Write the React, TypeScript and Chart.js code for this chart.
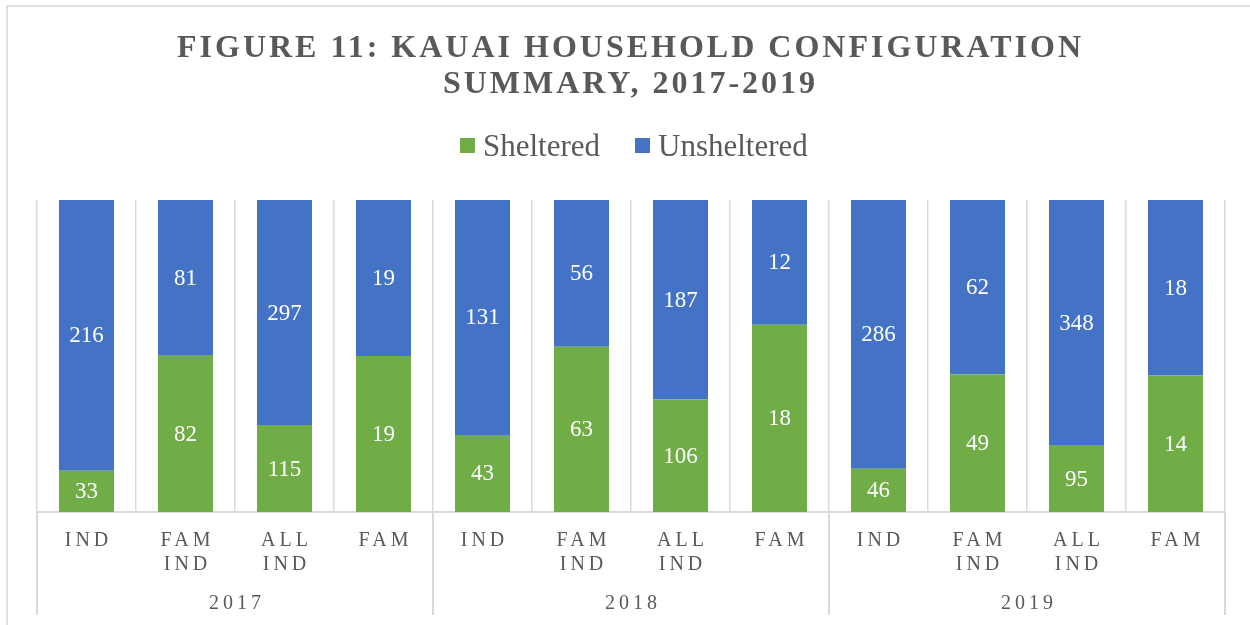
import React, { useEffect, useRef } from "react";
import { Chart, registerables } from "chart.js";

Chart.register(...registerables);

const titleLines = ["FIGURE 11: KAUAI HOUSEHOLD CONFIGURATION", "SUMMARY, 2017-2019"];
const years = ["2017", "2018", "2019"];
const categoryNames = [["IND"], ["FAM", "IND"], ["ALL", "IND"], ["FAM"]];
const seriesNames = ["Sheltered", "Unsheltered"];
const seriesColors = ["#70AD47", "#4472C4"];
const sheltered = [33, 82, 115, 19, 43, 63, 106, 18, 46, 49, 95, 14];
const unsheltered = [216, 81, 297, 19, 131, 56, 187, 12, 286, 62, 348, 18];

const SERIF = '"Liberation Serif", "Times New Roman", serif';
const TEXT = "#595959";
const GRID = "#D9D9D9";

const labels: string[] = [];
years.forEach((y) => categoryNames.forEach((c) => labels.push(y + " " + c.join(" "))));
const totals = sheltered.map((v, i) => v + unsheltered[i]);
const shelteredPct = sheltered.map((v, i) => (v / totals[i]) * 100);
const unshelteredPct = unsheltered.map((v, i) => (v / totals[i]) * 100);
const rawValues = [sheltered, unsheltered];

const chromePlugin = {
  id: "chrome",
  beforeDraw(chart: any) {
    const ctx = chart.ctx;
    ctx.save();
    ctx.fillStyle = "#FFFFFF";
    ctx.fillRect(0, 0, chart.width, chart.height);
    ctx.strokeStyle = GRID;
    ctx.lineWidth = 1.5;
    ctx.beginPath();
    ctx.moveTo(7, chart.height);
    ctx.lineTo(7, 6);
    ctx.lineTo(chart.width, 6);
    ctx.stroke();
    ctx.restore();
  },
  afterDatasetsDraw(chart: any) {
    const ctx = chart.ctx;
    ctx.save();
    ctx.fillStyle = "#FFFFFF";
    ctx.font = `23px ${SERIF}`;
    ctx.textAlign = "center";
    ctx.textBaseline = "middle";
    chart.data.datasets.forEach((ds: any, di: number) => {
      const meta = chart.getDatasetMeta(di);
      meta.data.forEach((el: any, i: number) => {
        const y = (el.y + el.base) / 2;
        ctx.fillText(String(rawValues[di][i]), el.x, y + 1);
      });
    });
    ctx.restore();
  },
  afterDraw(chart: any) {
    const ctx = chart.ctx;
    const xs = chart.scales.x;
    const area = chart.chartArea;
    ctx.save();
    // title
    ctx.fillStyle = TEXT;
    ctx.font = `bold 32px ${SERIF}`;
    (ctx as any).letterSpacing = "3px";
    ctx.textAlign = "left";
    ctx.textBaseline = "alphabetic";
    const titleCx = 629;
    const titleBase = [57, 93];
    titleLines.forEach((t, i) => {
      const w = ctx.measureText(t).width - 3;
      ctx.fillText(t, titleCx - w / 2, titleBase[i]);
    });
    // legend
    (ctx as any).letterSpacing = "0px";
    ctx.font = `31px ${SERIF}`;
    const legendBoxes = [460, 635];
    seriesNames.forEach((n, i) => {
      ctx.fillStyle = seriesColors[i];
      ctx.fillRect(legendBoxes[i], 138, 15, 15);
      ctx.fillStyle = TEXT;
      ctx.fillText(n, legendBoxes[i] + 23, 156);
    });
    // category labels
    const n = labels.length;
    const catW = (area.right - area.left) / n;
    ctx.font = `20px ${SERIF}`;
    (ctx as any).letterSpacing = "4px";
    ctx.textAlign = "center";
    ctx.fillStyle = TEXT;
    for (let i = 0; i < n; i++) {
      const cx = xs.getPixelForValue(i);
      const lines = categoryNames[i % categoryNames.length];
      lines.forEach((l, li) => ctx.fillText(l, cx + 2, 546 + li * 24));
    }
    // year labels + separators
    const per = categoryNames.length;
    years.forEach((y, yi) => {
      const x0 = xs.getPixelForValue(yi * per) - catW / 2;
      const x1 = xs.getPixelForValue(yi * per + per - 1) + catW / 2;
      ctx.fillText(y, (x0 + x1) / 2 + 2, 609);
    });
    (ctx as any).letterSpacing = "0px";
    ctx.strokeStyle = GRID;
    ctx.lineWidth = 2;
    for (let yi = 0; yi <= years.length; yi++) {
      const idx = Math.min(yi * per, n - 1);
      const x = yi * per < n ? xs.getPixelForValue(idx) - catW / 2 : xs.getPixelForValue(n - 1) + catW / 2;
      ctx.beginPath();
      ctx.moveTo(x, area.bottom);
      ctx.lineTo(x, 615);
      ctx.stroke();
    }
    ctx.restore();
  },
};

export default function App() {
  const ref = useRef<HTMLCanvasElement | null>(null);
  useEffect(() => {
    document.body.style.margin = "0";
    const canvas = ref.current!;
    const chart = new Chart(canvas, {
      type: "bar",
      data: {
        labels,
        datasets: [
          {
            label: seriesNames[0],
            data: shelteredPct,
            backgroundColor: seriesColors[0],
            barPercentage: 0.556,
            categoryPercentage: 1,
          },
          {
            label: seriesNames[1],
            data: unshelteredPct,
            backgroundColor: seriesColors[1],
            barPercentage: 0.556,
            categoryPercentage: 1,
          },
        ],
      },
      options: {
        responsive: false,
        animation: false,
        devicePixelRatio: 1,
        layout: { padding: { left: 37, right: 25, top: 200, bottom: 113 } },
        plugins: {
          legend: { display: false },
          title: { display: false },
          tooltip: { enabled: false },
        },
        scales: {
          x: {
            stacked: true,
            offset: true,
            grid: { display: true, offset: true, color: GRID, lineWidth: 1.5, drawTicks: false },
            border: { display: true, color: GRID, width: 2 },
            ticks: { display: false },
          },
          y: {
            stacked: true,
            display: false,
            min: 0,
            max: 100,
          },
        },
      },
      plugins: [chromePlugin],
    });
    return () => chart.destroy();
  }, []);
  return <canvas ref={ref} width={1250} height={625} style={{ display: "block" }} />;
}
